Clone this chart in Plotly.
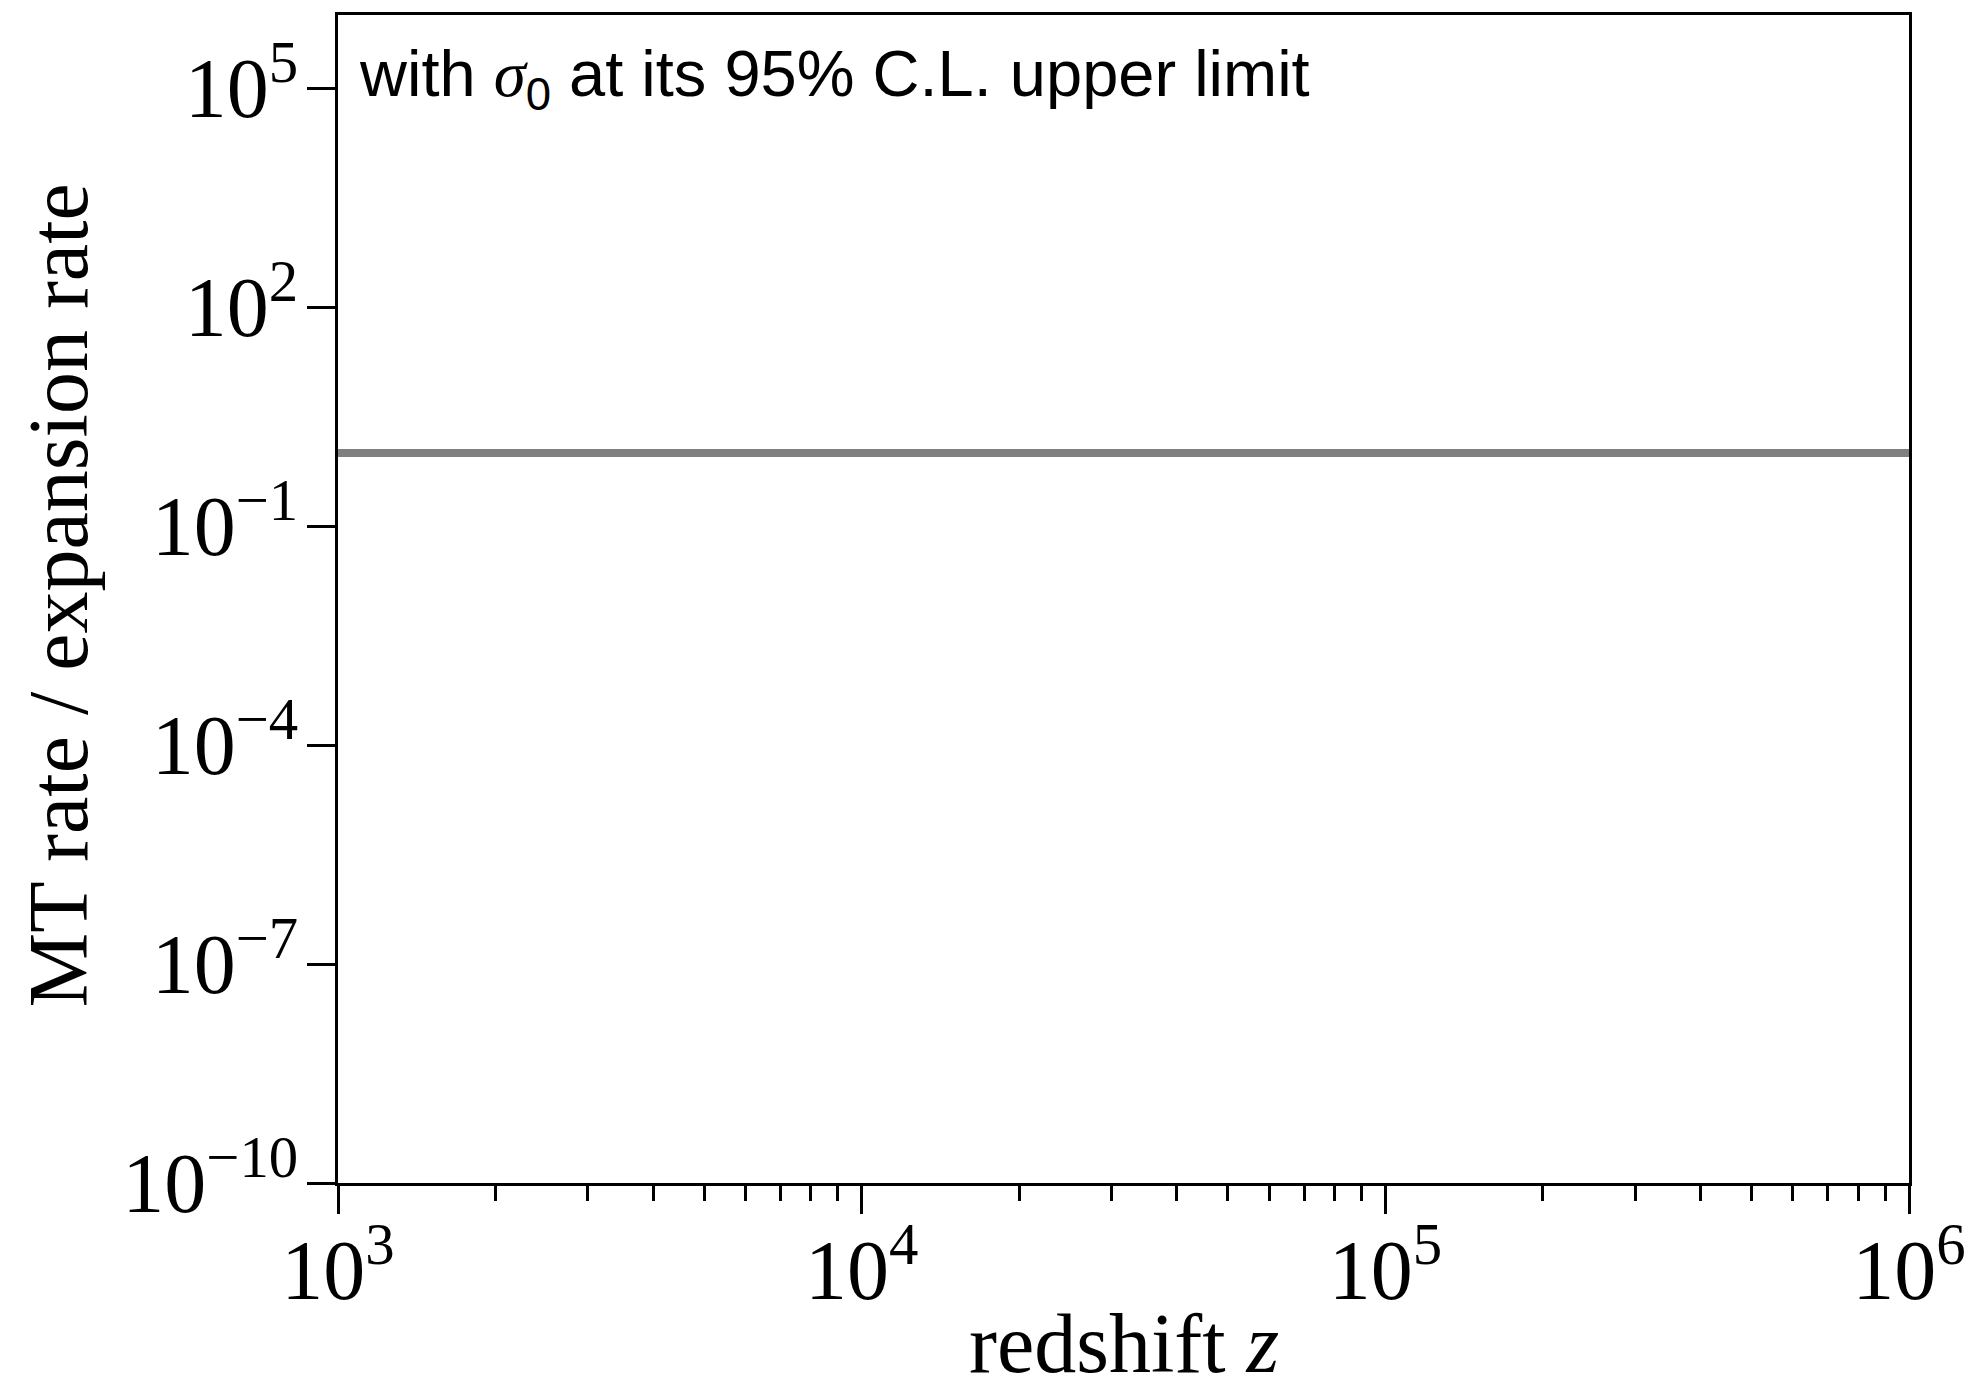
import plotly.graph_objects as go

# Data
redshift = [1e3, 1e4, 1e5, 1e6]
mt_ratio = [1.0, 1.0, 1.0, 1.0]

x_tickvals = [1e3, 1e4, 1e5, 1e6]
x_ticktext = ["10<sup>3</sup>", "10<sup>4</sup>", "10<sup>5</sup>", "10<sup>6</sup>"]
x_minorvals = [m * d for d in (1e3, 1e4, 1e5) for m in range(2, 10)]

y_tickvals = [1e-10, 1e-7, 1e-4, 1e-1, 1e2, 1e5]
y_ticktext = ["10<sup>−10</sup>", "10<sup>−7</sup>", "10<sup>−4</sup>",
              "10<sup>−1</sup>", "10<sup>2</sup>", "10<sup>5</sup>"]

x_title = "redshift <i>z</i>"
y_title = "MT rate / expansion rate"
note = ("with <span style=\"font-family:Liberation Serif\"><i>σ</i></span><sub>0</sub>"
        " at its 95% C.L. upper limit")

SERIF = "Liberation Serif, Times New Roman, serif"
SANS = "Liberation Sans, Arial, Helvetica, sans-serif"

fig = go.Figure()
fig.add_trace(go.Scatter(
    x=redshift, y=mt_ratio, mode="lines",
    line=dict(color="#808080", width=8),
    showlegend=False, hoverinfo="skip", cliponaxis=True,
))

axis_common = dict(
    showline=True, linecolor="black", linewidth=3, mirror=True,
    showgrid=False, zeroline=False, automargin=False,
    ticks="outside", tickcolor="black", tickwidth=3, ticklen=28,
    tickfont=dict(family=SERIF, size=84, color="black"),
    ticklabeloverflow="allow",
)

fig.update_xaxes(
    type="log", range=[3, 6],
    tickmode="array", tickvals=x_tickvals, ticktext=x_ticktext,
    ticklabelstandoff=-16,
    minor=dict(ticks="outside", tickmode="array", tickvals=x_minorvals,
               ticklen=15, tickwidth=2.5, tickcolor="black", showgrid=False),
    **axis_common,
)
fig.update_yaxes(
    type="log", range=[-10, 6],
    tickmode="array", tickvals=y_tickvals, ticktext=y_ticktext,
    ticklabelstandoff=-8,
    **axis_common,
)

# axis titles
fig.add_annotation(
    xref="paper", yref="paper", x=0.5, y=-0.096,
    xanchor="center", yanchor="top", showarrow=False,
    text=x_title, font=dict(family=SERIF, size=84, color="black"),
)
fig.add_annotation(
    xref="paper", yref="paper", x=-0.178, y=0.5034,
    xanchor="center", yanchor="middle", showarrow=False, textangle=-90,
    text=y_title, font=dict(family=SERIF, size=84, color="black"),
)

fig.add_annotation(
    xref="paper", yref="paper", x=0.012, y=0.983,
    xanchor="left", yanchor="top", showarrow=False,
    text=note, font=dict(family=SANS, size=65, color="black"),
)

fig.update_layout(
    width=1965, height=1384,
    margin=dict(l=338, r=56, t=15, b=201),
    paper_bgcolor="white", plot_bgcolor="white",
)

fig.write_html("out.html")
